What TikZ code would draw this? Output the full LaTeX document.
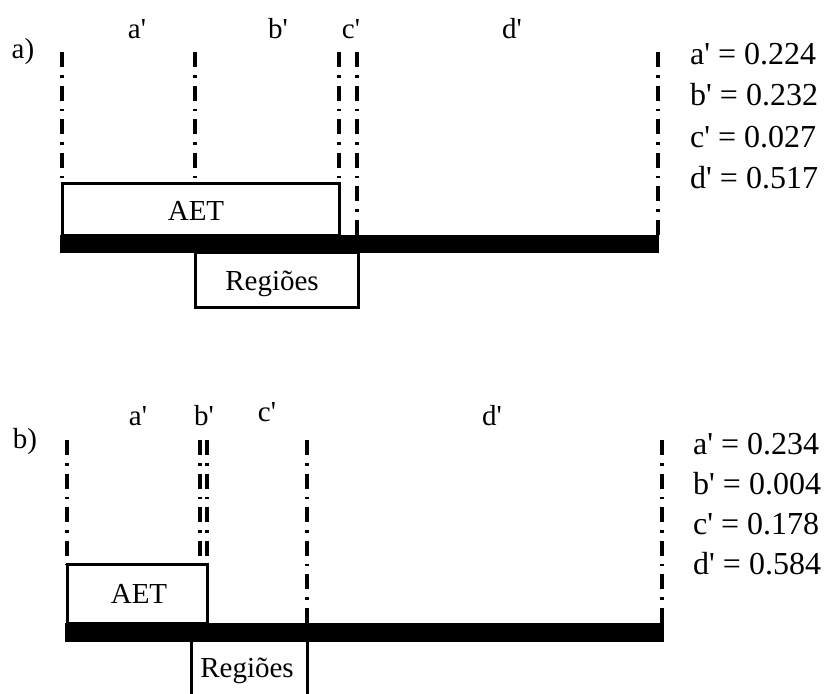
\documentclass[tikz,border=0pt]{standalone}
\usepackage{fontspec}
\setmainfont{Liberation Serif}[Ligatures=TeXOff]
\begin{document}
\begin{tikzpicture}[x=1pt,y=-1pt,
  lbl/.style={font=\fontsize{29}{34}\selectfont, inner sep=0pt, anchor=base},
  val/.style={font=\fontsize{32}{36}\selectfont, inner sep=0pt, anchor=base west},
  boxst/.style={draw, line width=3pt, outer sep=0pt, inner sep=0pt, rectangle},
  barst/.style={fill=black, draw=none, outer sep=0pt, inner sep=0pt, rectangle},
  dd/.style={line width=3.2pt, dash pattern=on 15pt off 8pt on 2.5pt off 8pt}]
\useasboundingbox (0,0) rectangle (831,694);

% ---------------- panel a ----------------
\node[lbl, anchor=base] (pa) at (23,58) {a)};
\node[lbl] (la) at (137,38) {a\textquotesingle};
\node[lbl] (lb) at (278,38) {b\textquotesingle};
\node[lbl] (lc) at (351,38) {c\textquotesingle};
\node[lbl] (ld) at (512,38) {d\textquotesingle};

\node[barst, minimum width=599pt, minimum height=18pt] (barA) at (359.5,244) {};
\node[boxst, minimum width=277pt, minimum height=52pt] (aetA) at (200.5,209) {};
\node[boxst, minimum width=163pt, minimum height=55pt] (regA) at (276.5,279.5) {};
\node[barst, minimum width=599pt, minimum height=18pt] at (barA) {};
\node[lbl] (taetA) at (196,220) {AET};
\node[lbl] (tregA) at (272,290) {Regiões};

\coordinate (a1) at (62,52);
\coordinate (a2) at (195,52);
\coordinate (a3) at (339,52);
\coordinate (a4) at (357,52);
\coordinate (a5) at (658,52);
\draw[dd] (a1) -- (a1 |- aetA.north);
\draw[dd] (a2) -- (a2 |- aetA.north);
\draw[dd] (a3) -- (a3 |- aetA.north);
\draw[dd] (a4) -- (a4 |- barA.north);
\draw[dd] (a5) -- (a5 |- barA.north);

\node[val] (va1) at (690,64) {a\textquotesingle{} = 0.224};
\node[val] (va2) at (690,105.5) {b\textquotesingle{} = 0.232};
\node[val] (va3) at (690,147) {c\textquotesingle{} = 0.027};
\node[val] (va4) at (690,188) {d\textquotesingle{} = 0.517};

% ---------------- panel b ----------------
\node[lbl] (pb) at (25,448) {b)};
\node[lbl] (lb1) at (138,425) {a\textquotesingle};
\node[lbl] (lb2) at (204,425) {b\textquotesingle};
\node[lbl] (lb3) at (267,421) {c\textquotesingle};
\node[lbl] (lb4) at (492,425) {d\textquotesingle};

\node[boxst, minimum width=140pt, minimum height=59pt] (aetB) at (137,593.5) {};
\coordinate (rb1) at (191,642);
\coordinate (rb2) at (307,642);
\draw[line width=3pt] (191,694) -- (rb1);
\draw[line width=3pt] (307,694) -- (rb2);
\node[barst, minimum width=599pt, minimum height=19pt] (barB) at (364.5,632.5) {};
\node[lbl] (taetB) at (139,603) {AET};
\node[lbl] (tregB) at (247,677) {Regiões};

\coordinate (b1) at (67,440);
\coordinate (b2) at (200,440);
\coordinate (b3) at (207,440);
\coordinate (b4) at (307,440);
\coordinate (b5) at (662,440);
\draw[dd] (b1) -- (b1 |- aetB.north);
\draw[dd] (b2) -- (b2 |- aetB.north);
\draw[dd] (b3) -- (b3 |- aetB.north);
\draw[dd] (b4) -- (b4 |- barB.north);
\draw[dd] (b5) -- (b5 |- barB.north);

\node[val] (vb1) at (693,454) {a\textquotesingle{} = 0.234};
\node[val] (vb2) at (693,494) {b\textquotesingle{} = 0.004};
\node[val] (vb3) at (693,534) {c\textquotesingle{} = 0.178};
\node[val] (vb4) at (693,574) {d\textquotesingle{} = 0.584};
\end{tikzpicture}
\end{document}
